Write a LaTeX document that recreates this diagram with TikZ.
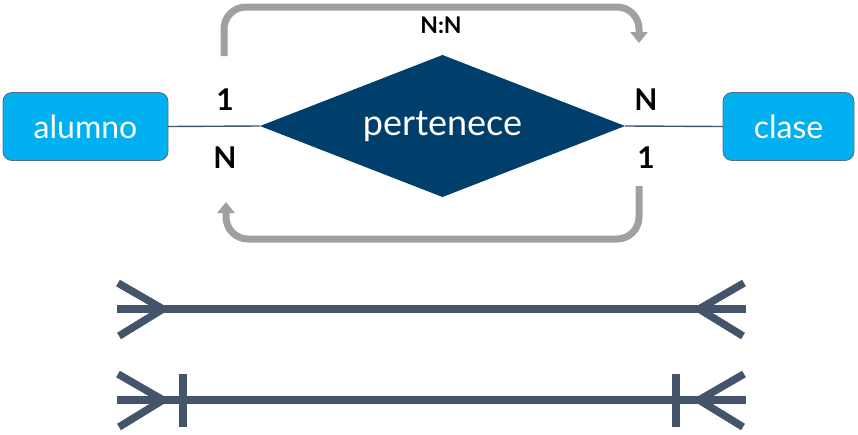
\documentclass[tikz,border=0pt]{standalone}
\usepackage{fontspec}
\setmainfont{Lato}
\usetikzlibrary{arrows.meta,shapes.geometric}
\definecolor{boxcyan}{HTML}{00B0F0}
\definecolor{boxedge}{HTML}{5B6B7A}
\definecolor{relblue}{HTML}{003E6B}
\definecolor{linkcol}{HTML}{44546A}
\definecolor{loopgray}{HTML}{A0A0A0}
\tikzset{
  entity/.style={draw=boxedge, line width=0.8pt, fill=boxcyan, rounded corners=9pt,
     minimum width=165pt, minimum height=68pt, text=white, font=\fontsize{32}{34}\selectfont, inner sep=0pt, outer sep=0pt},
  relation/.style={diamond, fill=relblue, text=white,
     minimum width=365pt, minimum height=142pt, inner sep=0pt, outer sep=0pt, aspect=2.57},
  link/.style={draw=linkcol, line width=1.4pt},
  card/.style={font=\bfseries\fontsize{30}{32}\selectfont, text=black, inner sep=0pt},
  loop/.style={draw=loopgray, line width=7pt, rounded corners=22pt,
     -{Triangle[width=17pt,length=11pt]}},
  crow/.style={draw=linkcol, line width=7.5pt}
}
\begin{document}
\begin{tikzpicture}[x=1pt,y=-1pt]
\useasboundingbox (0,0) rectangle (858,434);
% entities
\node[entity, minimum width=165pt] (alumno) at (85.5,126.5) {alumno};
\node[entity, minimum width=131pt] (clase) at (788.5,126.5) {clase};
\node[relation] (rel) at (442.5,126) {};
\node[text=white, font=\fontsize{36}{38}\selectfont] (reltxt) at (442.5,127) {pertenece};
\draw[link] (alumno.east) -- (rel.west);
\draw[link] (rel.east) -- (clase.west);
% cardinalities
\node[card] (c1) at (225,100) {1};
\node[card] (c2) at (225,158) {N};
\node[card] (c3) at (646,100) {N};
\node[card] (c4) at (646,158) {1};
\node[font=\bfseries\fontsize{23}{25}\selectfont] (nn) at (441,25) {N:N};
% loops
\coordinate (t1) at (224,56);
\coordinate (t2) at (639,7);
\coordinate (t3) at (639,43);
\draw[loop] (t1) |- (t2) -- (t3);
\coordinate (b1) at (639,186);
\coordinate (b2) at (226,239);
\coordinate (b3) at (226,202);
\draw[loop] (b1) |- (b2) -- (b3);
% crow's foot lines
\coordinate (l1a) at (117,309);
\coordinate (l1b) at (746,309);
\coordinate (l1p) at (163,309);
\coordinate (l1q) at (699,309);
\draw[crow] (l1a) -- (l1b);
\draw[crow] (118,283) -- (l1p) -- (119,336);
\draw[crow] (744,283) -- (l1q) -- (743,336);
\coordinate (l2a) at (117,400);
\coordinate (l2b) at (746,400);
\coordinate (l2p) at (163,400);
\coordinate (l2q) at (699,400);
\draw[crow] (l2a) -- (l2b);
\draw[crow] (118,374) -- (l2p) -- (119,427);
\draw[crow] (744,374) -- (l2q) -- (743,427);
\draw[crow] (183,374) -- (183,427);
\draw[crow] (676,374) -- (676,427);
\end{tikzpicture}
\end{document}
